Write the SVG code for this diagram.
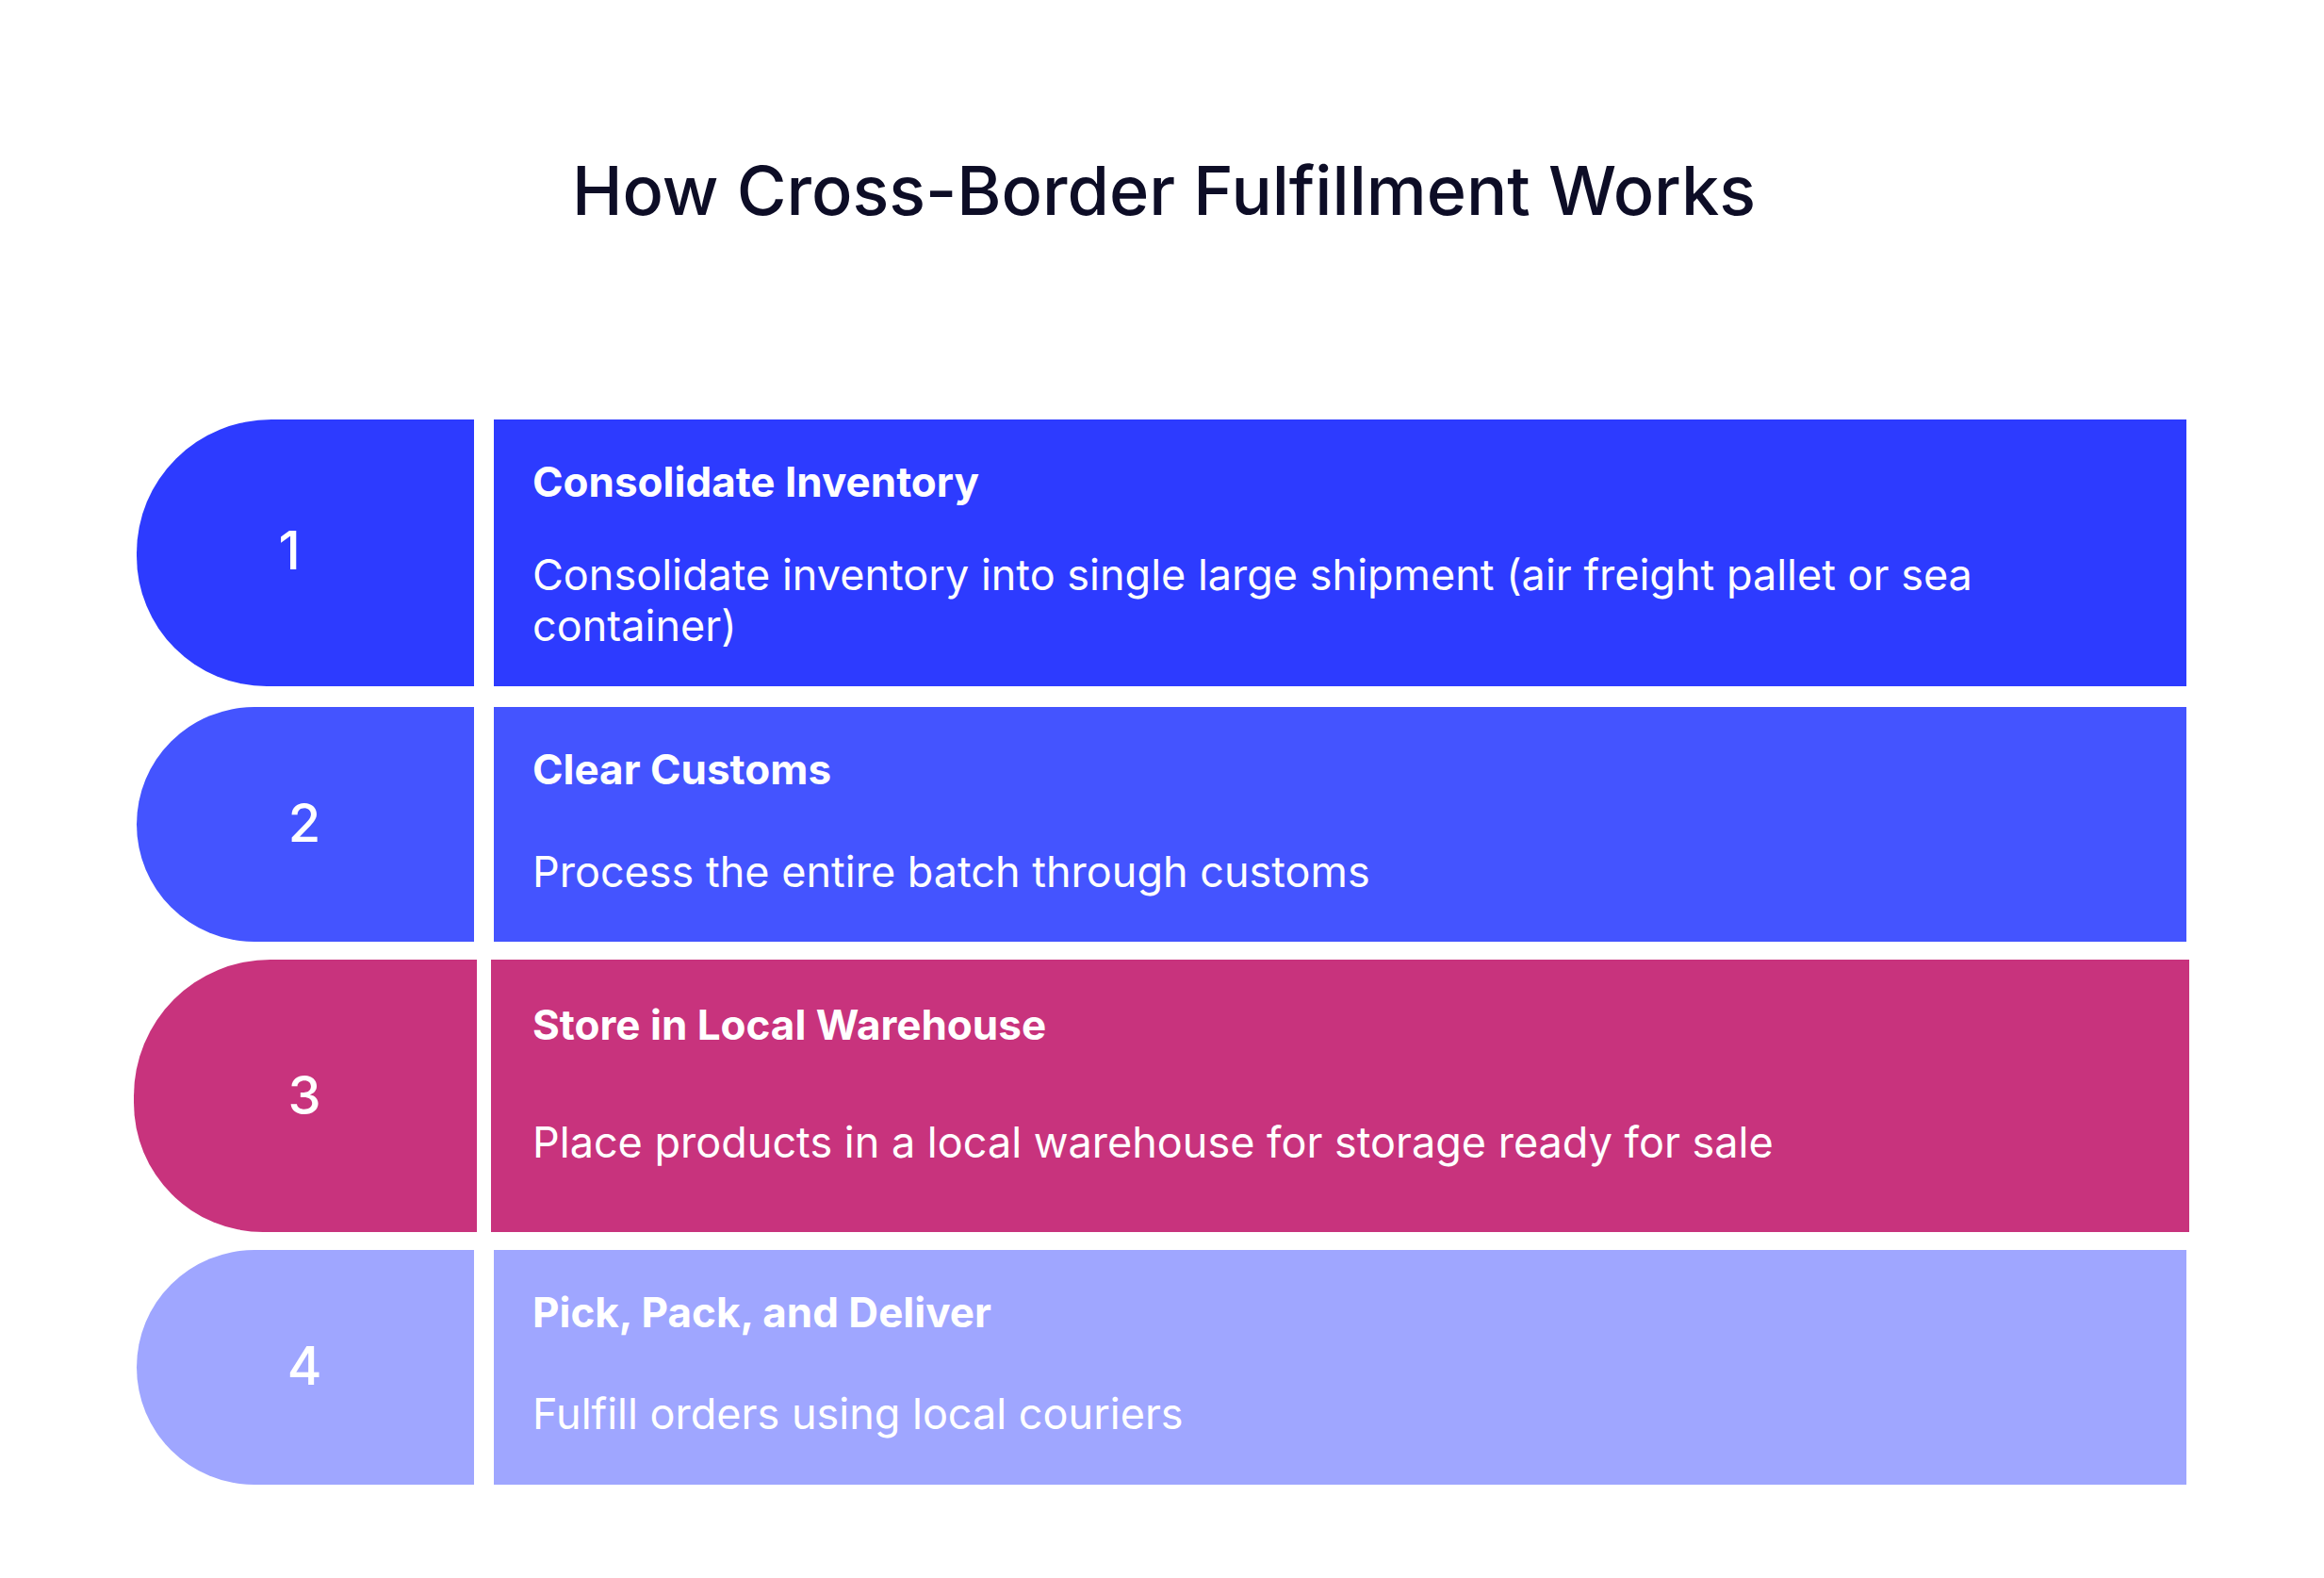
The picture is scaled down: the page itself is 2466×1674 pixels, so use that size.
<svg xmlns="http://www.w3.org/2000/svg" width="2466" height="1674" viewBox="0 0 2466 1674">
<style>
.t{font-family:Inter,"Liberation Sans",sans-serif;fill:#fff}
.h{font-size:44px;font-weight:700}
.b{font-size:45px;font-weight:400}
.n{font-size:56px;font-weight:500;text-anchor:middle}
</style>
<rect width="2466" height="1674" fill="#fff"/>
<text x="1235" y="228" text-anchor="middle" font-family="Inter,'Liberation Sans',sans-serif" font-size="72" font-weight="500" fill="#0d0d26">How Cross-Border Fulfillment Works</text>
<g id="step1">
<path d="M503 445H288A143 141.5 0 0 0 145 586.5V590A138 138 0 0 0 283 728H503Z" fill="#2D3BFF"/>
<rect x="524" y="445" width="1796" height="283" fill="#2D3BFF"/>
<text class="t n" x="307" y="604">1</text>
<text class="t h" x="565" y="527">Consolidate Inventory</text>
<text class="t b" x="565" y="626">Consolidate inventory into single large shipment (air freight pallet or sea</text>
<text class="t b" x="565" y="680">container)</text>
</g>
<g id="step2">
<path d="M503 750H270A125 124.5 0 0 0 270 999H503Z" fill="#4454FF"/>
<rect x="524" y="750" width="1796" height="249" fill="#4454FF"/>
<text class="t n" x="323" y="893">2</text>
<text class="t h" x="565" y="832">Clear Customs</text>
<text class="t b" x="565" y="941">Process the entire batch through customs</text>
</g>
<g id="step3">
<path d="M506 1018H287A145 144.5 0 0 0 142 1162.5V1170A137 137 0 0 0 279 1307H506Z" fill="#C8337D"/>
<rect x="521" y="1018" width="1802" height="289" fill="#C8337D"/>
<text class="t n" x="323" y="1182">3</text>
<text class="t h" x="565" y="1103">Store in Local Warehouse</text>
<text class="t b" x="565" y="1228">Place products in a local warehouse for storage ready for sale</text>
</g>
<g id="step4">
<path d="M503 1326H270A125 124.5 0 0 0 270 1575H503Z" fill="#9FA6FF"/>
<rect x="524" y="1326" width="1796" height="249" fill="#9FA6FF"/>
<text class="t n" x="323" y="1469">4</text>
<text class="t h" x="565" y="1408">Pick, Pack, and Deliver</text>
<text class="t b" x="565" y="1516">Fulfill orders using local couriers</text>
</g>
<g id="connectors"/>
</svg>
